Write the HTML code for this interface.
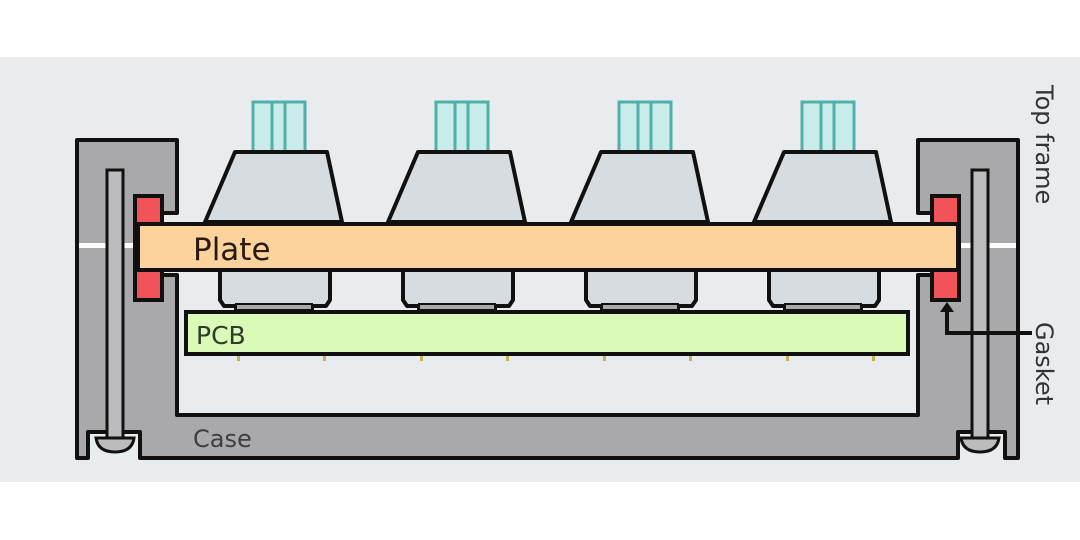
<!DOCTYPE html>
<html><head><style>
html,body{margin:0;padding:0;background:#fff;}
svg{display:block;}
text{font-family:"DejaVu Sans","Liberation Sans",sans-serif;}
</style></head><body>
<svg width="1080" height="540" viewBox="0 0 1080 540" xmlns="http://www.w3.org/2000/svg">
<rect x="0" y="0" width="1080" height="540" fill="#fff"/>
<rect x="0" y="57" width="1080" height="425" fill="#e8ecee"/>

<!-- Case outer / frame -->
<path d="M77 140 H177 V213 H162 V275 H177 V415 H918 V275 H932 V213 H918 V140 H1018 V458 H1005 V432 H958 V458 H140 V432 H88 V458 H77 Z" fill="#a9a8aa" stroke="#111" stroke-width="4" stroke-linejoin="round"/>
<!-- gap lines -->
<rect x="79" y="243" width="58" height="5" fill="#fff"/>
<rect x="960" y="243" width="56" height="5" fill="#fff"/>

<!-- pins -->
<rect x="107" y="170" width="16" height="268" fill="#bcbbbd" stroke="#111" stroke-width="3"/>
<path d="M96 438 H134 Q132 452 115 452 Q98 452 96 438 Z" fill="#bcbbbd" stroke="#111" stroke-width="3"/>
<rect x="972" y="170" width="16" height="268" fill="#bcbbbd" stroke="#111" stroke-width="3"/>
<path d="M961 438 H999 Q997 452 980 452 Q963 452 961 438 Z" fill="#bcbbbd" stroke="#111" stroke-width="3"/>

<!-- gaskets -->
<rect x="135" y="196" width="27" height="104" fill="#f05358" stroke="#111" stroke-width="4"/>
<rect x="932" y="196" width="27" height="104" fill="#f05358" stroke="#111" stroke-width="4"/>

<!-- switches -->
<defs>
<g id="sw">
<rect x="253" y="102" width="52" height="50" fill="#c9eceb" stroke="#4fb0aa" stroke-width="3"/>
<line x1="272" y1="102" x2="272" y2="152" stroke="#4fb0aa" stroke-width="3"/>
<line x1="285" y1="102" x2="285" y2="152" stroke="#4fb0aa" stroke-width="3"/>
<path d="M235 152 H327 L342 222 H205 Z" fill="#d6dcdf" stroke="#111" stroke-width="4" stroke-linejoin="round"/>
<path d="M220 270 H330 V300 L326 306 H312 V310 H236 V306 H224 L220 300 Z" fill="#d6dcdf" stroke="#111" stroke-width="4" stroke-linejoin="round"/>
<rect x="236" y="304" width="76" height="6" fill="#a9a8aa" stroke="#111" stroke-width="2"/>
<rect x="237" y="356" width="3" height="5" fill="#c8b24a"/>
<rect x="323" y="356" width="3" height="5" fill="#c8b24a"/>
</g>
</defs>
<use href="#sw"/>
<use href="#sw" transform="translate(183,0)"/>
<use href="#sw" transform="translate(366,0)"/>
<use href="#sw" transform="translate(549,0)"/>

<!-- plate -->
<rect x="138" y="224" width="820" height="46" fill="#fcd39c" stroke="#111" stroke-width="4"/>
<text x="193" y="260" font-size="31" fill="#2a1a10">Plate</text>

<!-- PCB -->
<rect x="186" y="312" width="722" height="42" fill="#dafab7" stroke="#111" stroke-width="4"/>
<text x="196" y="344" font-size="25" fill="#2e3a2a">PCB</text>

<text x="193" y="447" font-size="24" fill="#3e3e42">Case</text>

<!-- gasket arrow -->
<path d="M1032 333 H947 V310" fill="none" stroke="#111" stroke-width="4"/>
<path d="M940 312 L947 302 L954 312 Z" fill="#111"/>

<text transform="translate(1036,85) rotate(90)" font-size="24" fill="#333">Top frame</text>
<text transform="translate(1036,322) rotate(90)" font-size="24" fill="#333">Gasket</text>
</svg>
</body></html>
